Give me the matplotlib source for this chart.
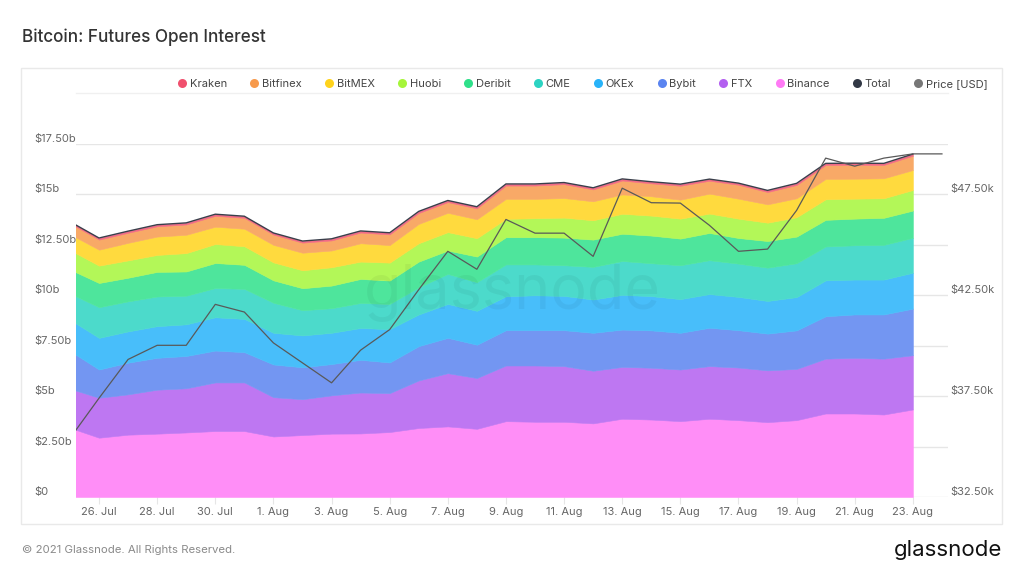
import matplotlib
matplotlib.use('Agg')
import matplotlib.pyplot as plt
import numpy as np
import pandas as pd
from matplotlib.lines import Line2D
from matplotlib.patches import Rectangle
from matplotlib.colors import to_rgb

plt.rcParams['font.family'] = ['Inter', 'DejaVu Sans']

# daily values, 25 Jul .. 23 Aug 2021 (open interest in $b)
dates = pd.date_range('2021-07-25', '2021-08-23', freq='D')
binance = [3.43, 2.94, 3.09, 3.14, 3.20, 3.27, 3.27, 3.00, 3.07, 3.14, 3.15, 3.22, 3.42, 3.50, 3.38,
           3.76, 3.73, 3.73, 3.65, 3.88, 3.84, 3.76, 3.88, 3.81, 3.71, 3.81, 4.14, 4.14, 4.09, 4.34]
ftx = [1.94, 1.98, 2.00, 2.18, 2.19, 2.41, 2.41, 1.95, 1.78, 1.90, 2.03, 1.93, 2.36, 2.64, 2.52,
       2.76, 2.79, 2.76, 2.61, 2.57, 2.57, 2.56, 2.61, 2.61, 2.57, 2.54, 2.72, 2.76, 2.77, 2.69]
bybit = [1.87, 1.40, 1.57, 1.58, 1.60, 1.58, 1.50, 1.62, 1.58, 1.55, 1.62, 1.52, 1.70, 1.75, 1.65,
         1.75, 1.75, 1.78, 1.88, 1.85, 1.85, 1.82, 1.90, 1.85, 1.82, 1.91, 2.10, 2.15, 2.19, 2.31]
okex = [1.55, 1.57, 1.55, 1.57, 1.57, 1.65, 1.65, 1.57, 1.58, 1.55, 1.58, 1.65, 1.57, 1.68, 1.68,
        1.68, 1.73, 1.70, 1.65, 1.72, 1.70, 1.67, 1.67, 1.65, 1.62, 1.65, 1.78, 1.73, 1.73, 1.78]
cme = [1.30, 1.52, 1.49, 1.47, 1.42, 1.45, 1.49, 1.49, 1.25, 1.22, 1.24, 1.25, 1.35, 1.49, 1.42,
       1.58, 1.53, 1.52, 1.62, 1.68, 1.63, 1.68, 1.68, 1.65, 1.65, 1.68, 1.68, 1.70, 1.72, 1.73]
deribit = [1.19, 1.20, 1.17, 1.22, 1.20, 1.24, 1.19, 1.11, 1.09, 1.12, 1.19, 1.16, 1.27, 1.16, 1.27,
           1.35, 1.35, 1.37, 1.35, 1.35, 1.37, 1.32, 1.35, 1.27, 1.32, 1.32, 1.32, 1.32, 1.34, 1.35]
huobi = [0.96, 0.86, 0.86, 0.84, 0.91, 0.94, 0.92, 0.89, 0.89, 0.91, 0.86, 0.89, 0.91, 0.91, 0.91,
         0.91, 0.94, 0.99, 0.96, 0.99, 0.99, 0.99, 0.96, 0.96, 0.91, 0.96, 1.02, 0.99, 0.97, 1.02]
bitmex = [0.79, 0.79, 0.87, 0.91, 0.91, 0.86, 0.87, 0.87, 0.87, 0.83, 0.91, 0.87, 0.96, 0.96, 0.94,
          0.99, 0.96, 0.97, 0.94, 0.96, 0.96, 0.94, 0.99, 0.99, 0.91, 0.94, 1.01, 0.99, 0.99, 0.99]
bitfinex = [0.54, 0.50, 0.50, 0.51, 0.51, 0.54, 0.54, 0.51, 0.50, 0.50, 0.53, 0.53, 0.54, 0.53, 0.54,
            0.66, 0.66, 0.69, 0.59, 0.69, 0.64, 0.69, 0.64, 0.69, 0.61, 0.66, 0.69, 0.69, 0.66, 0.71]
kraken = [0.08, 0.08, 0.08, 0.08, 0.08, 0.08, 0.08, 0.08, 0.08, 0.08, 0.08, 0.08, 0.08, 0.08, 0.08,
          0.08, 0.08, 0.08, 0.08, 0.08, 0.08, 0.08, 0.08, 0.08, 0.08, 0.08, 0.08, 0.08, 0.08, 0.08]

# BTC price in $k, 25 Jul .. 24 Aug
price_dates = pd.date_range('2021-07-25', '2021-08-24', freq='D')
price = [35.41, 37.40, 39.32, 40.02, 40.02, 42.05, 41.67, 40.14, 39.15, 38.16, 39.78, 40.80, 42.78,
         44.68, 43.79, 46.26, 45.58, 45.58, 44.43, 47.81, 47.09, 47.07, 45.97, 44.68, 44.79, 46.71,
         49.30, 48.90, 49.30, 49.51, 49.51]

legend_names = ['Kraken', 'Bitfinex', 'BitMEX', 'Huobi', 'Deribit', 'CME', 'OKEx', 'Bybit', 'FTX',
                'Binance', 'Total', 'Price [USD]']
legend_colors = ['#f0506e', '#f79a4c', '#ffd31c', '#a6f53a', '#2fe08a', '#2cd3c2', '#28b3f9',
                 '#5a84f0', '#b35ff0', '#ff7af5', '#323845', '#777777']

left_ticks = [0, 2.5, 5, 7.5, 10, 12.5, 15, 17.5]
right_ticks = [32.5, 37.5, 42.5, 47.5]


def money(v, suffix):
    if v == 0:
        return '$0'
    if float(v).is_integer():
        return '$' + str(int(v)) + suffix
    return '${:.2f}'.format(v) + suffix


def lighten(c, a=0.85):
    r, g, b = to_rgb(c)
    return (a * r + 1 - a, a * g + 1 - a, a * b + 1 - a)


fig = plt.figure(figsize=(10.24, 5.76), dpi=100)
fig.patch.set_facecolor('white')

# card frame and separator under legend
fig.patches.append(Rectangle((21 / 1024, 1 - 524 / 576), 981 / 1024, 456 / 576, transform=fig.transFigure,
                             fill=False, edgecolor='#e9e9e9', lw=1))
fig.lines.append(Line2D([76 / 1024, 948 / 1024], [1 - 93 / 576, 1 - 93 / 576], transform=fig.transFigure,
                        color='#f0f0f0', lw=1))

ax = fig.add_axes([76 / 1024, 79 / 576, 872 / 1024, 353 / 576])
series = [binance, ftx, bybit, okex, cme, deribit, huobi, bitmex, bitfinex, kraken]
fills = [lighten(c) for c in legend_colors[:10][::-1]]
ax.stackplot(dates, *series, colors=fills, lw=0.4, edgecolor='face', zorder=2)
total = np.sum(np.array(series), axis=0)
ax.plot(dates, total, color='#3a3f4b', lw=1.0, zorder=4)

ax.set_ylim(0, 17.5)
ax.set_xlim(pd.Timestamp('2021-07-25 05:00'), pd.Timestamp('2021-08-24 05:00'))
ax.set_yticks(left_ticks)
ax.set_yticklabels([money(v, 'b') for v in left_ticks])
ax.grid(axis='y', color='#e6e6e6', lw=1, zorder=0)
ax.set_axisbelow(True)
for s in ax.spines.values():
    s.set_visible(False)
ax.tick_params(axis='y', length=0, pad=30.2, labelsize=8, labelcolor='#666666')
for lab in ax.get_yticklabels():
    lab.set_horizontalalignment('left')
    lab.set_verticalalignment('bottom')

xt = pd.date_range('2021-07-26', '2021-08-23', freq='2D')
ax.set_xticks(xt)
ax.set_xticklabels([str(d.day) + '. ' + d.strftime('%b') for d in xt])
ax.tick_params(axis='x', length=5, width=0.8, color='#e6e6e6', pad=2.5, labelsize=8, labelcolor='#666666')

ax2 = ax.twinx()
ax2.plot(price_dates, price, color='#595959', lw=0.9, zorder=5)
ax2.set_ylim(32.5, 50)
ax2.set_yticks(right_ticks)
ax2.set_yticklabels([money(v, 'k') for v in right_ticks])
ax2.tick_params(axis='y', length=0, pad=1.4, labelsize=8, labelcolor='#666666')
for lab in ax2.get_yticklabels():
    lab.set_verticalalignment('bottom')
for s in ax2.spines.values():
    s.set_visible(False)
ax2.set_xlim(ax.get_xlim())

handles = [Line2D([], [], ls='', marker='o', markersize=6.5, color=c, markeredgewidth=0) for c in legend_colors]
fig.legend(handles, legend_names, loc='center right', bbox_to_anchor=(988 / 1024, 1 - 84 / 576),
           ncol=12, frameon=False, fontsize=8, handlelength=0.6, handletextpad=0.4, columnspacing=2.15,
           labelcolor='#444444', borderpad=0, borderaxespad=0)

# watermark
fig.text(512 / 1024, 1 - 309 / 576, 'glassnode', fontsize=44, color='black', alpha=0.045,
         ha='center', va='baseline', zorder=10)

fig.text(22 / 1024, 1 - 37 / 576, 'Bitcoin: Futures Open Interest', fontsize=12.3, color='#333333',
         fontweight='medium', ha='left', va='center')
fig.text(22 / 1024, 1 - 550 / 576, '© 2021 Glassnode. All Rights Reserved.', fontsize=8.2,
         color='#8a8a8a', ha='left', va='center')
fig.text(1002 / 1024, 1 - 556 / 576, 'glassnode', fontsize=16, color='#111111', ha='right', va='baseline')

fig.savefig('out.png', dpi=100)
